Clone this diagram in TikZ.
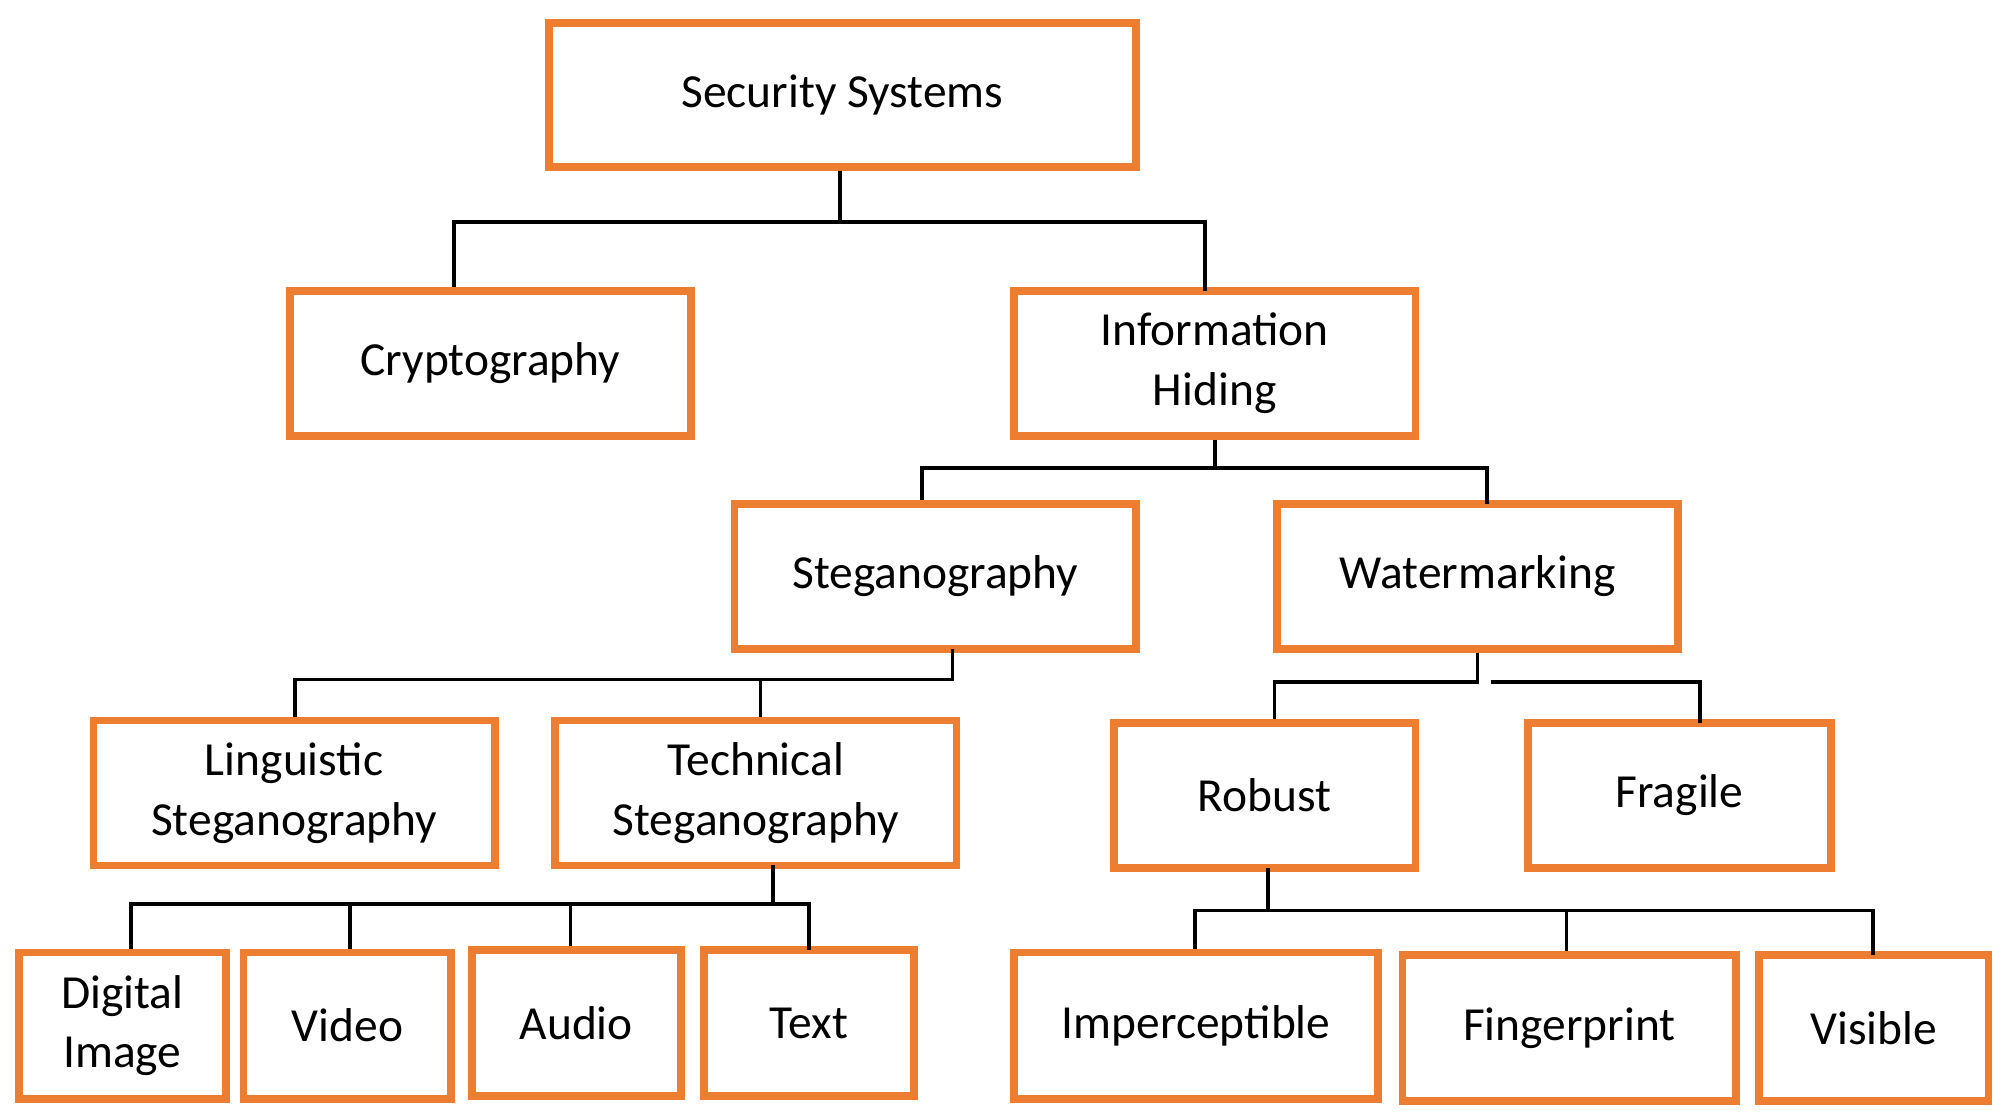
\documentclass[tikz,border=0pt]{standalone}
\usepackage{fontspec}
\setmainfont{Carlito}
\usetikzlibrary{calc}
\definecolor{boxorange}{RGB}{237,125,49}
\tikzset{
  box/.style={draw=boxorange, line width=2.2pt, fill=white, align=center,
    inner sep=0pt, font=\fontsize{13.5}{17}\selectfont},
  link/.style={draw=black, line width=1pt}
}
\newcommand{\boxat}[6]{% name, x1, y1, x2, y2, text
  \node[box, minimum width={(#4-#2)*0.01282cm}, minimum height={(#5-#3)*0.01282cm}]
    (#1) at ({(#2+#4)/2},{(#3+#5)/2}) {#6};}
\begin{document}
\begin{tikzpicture}[x=0.01282cm, y=-0.01282cm]
    \useasboundingbox (0,0) rectangle (1560,870);

    % Level 1 and 2
    \boxat{sec}{428}{18}{886}{130}{Security Systems}
    \boxat{crypt}{226}{227}{539}{340}{Cryptography}
    \boxat{hiding}{791}{227}{1104}{340}{Information\\Hiding}

    % Level 3
    \boxat{steg}{573}{393}{886}{506}{Steganography}
    \boxat{water}{996}{393}{1309}{506}{Watermarking}

    % Level 4
    \boxat{ling}{73}{562}{386}{675}{Linguistic\\Steganography}
    \boxat{tech}{433}{562}{746}{675}{Technical\\Steganography}
    \boxat{robust}{869}{564}{1104}{677}{Robust}
    \boxat{fragile}{1192}{564}{1428}{677}{Fragile}

    % Level 5
    \boxat{digital}{15}{743}{176}{857}{Digital\\Image}
    \boxat{video}{190}{743}{352}{857}{Video}
    \boxat{audio}{368}{741}{531}{855}{Audio}
    \boxat{text}{549}{741}{713}{855}{Text}
    \boxat{imperc}{791}{743}{1075}{857}{Imperceptible}
    \boxat{finger}{1094}{745}{1354}{859}{Fingerprint}
    \boxat{visible}{1372}{745}{1551}{859}{Visible}

    % Connections
    \draw[link] ($(sec.south)+(-2,0)$) |- (354,173) coordinate (busA) -- (crypt.north -| busA);
    \draw[link] (655,173) -| (940,227) coordinate (dropA);
    \draw[link] (hiding.south) |- (719,365) coordinate (busB) -- (steg.north -| busB);
    \draw[link] (945,365) -| (1160,393) coordinate (dropB);
    \draw[link] (743,506) |- (230,530) coordinate (busC) -- (ling.north -| busC);
    \draw[link] (593,530) coordinate (busD) -- (tech.north -| busD);
    \draw[link] (water.south) |- (994,532) coordinate (busE) -- (robust.north -| busE);
    \draw[link] (1163,532) -| (1326,564) coordinate (dropE);
    \draw[link] (603,675) |- (102,705) coordinate (busF) -- (digital.north -| busF);
    \draw[link] (273,705) coordinate (busG) -- (video.north -| busG);
    \draw[link] (445,705) coordinate (busH) -- (audio.north -| busH);
    \draw[link] (603,705) -| (631,741) coordinate (dropF);
    \draw[link] (989,677) |- (932,710) coordinate (busI) -- (imperc.north -| busI);
    \draw[link] (989,710) -| (1461,745) coordinate (dropI);
    \draw[link] (1222,710) coordinate (busJ) -- (finger.north -| busJ);
\end{tikzpicture}
\end{document}
